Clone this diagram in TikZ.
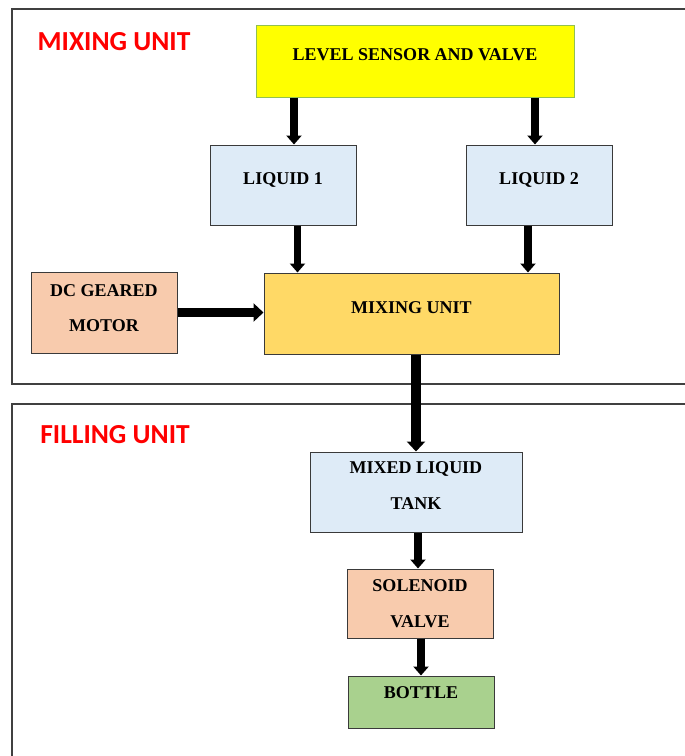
\documentclass[tikz,border=0pt]{standalone}
\usepackage{fontspec}
\setmainfont{Liberation Serif}
\newfontfamily\labfont{Carlito}
\usetikzlibrary{arrows.meta}
\definecolor{framecol}{HTML}{404040}
\definecolor{boxedge}{HTML}{3A3A3A}
\definecolor{lvlfill}{HTML}{FFFF00}
\definecolor{lvledge}{HTML}{92C050}
\definecolor{bluefill}{HTML}{DEEBF7}
\definecolor{mixfill}{HTML}{FFD966}
\definecolor{peachfill}{HTML}{F8CBAD}
\definecolor{greenfill}{HTML}{A9D18E}
\definecolor{titlered}{HTML}{FF0000}
\begin{document}
\begin{tikzpicture}[x=1pt,y=-1pt,
  box/.style={draw=boxedge, line width=1pt, inner sep=0pt},
  txt/.style={anchor=base, inner sep=0pt, font=\fontsize{18}{18}\selectfont\bfseries},
  title/.style={anchor=base, inner sep=0pt, text=titlered, font=\labfont\fontsize{27.5}{27.5}\selectfont\bfseries},
  arr/.style={line width=7.3pt, -{Triangle[width=15pt,length=9pt]}},
  arrbig/.style={line width=9.3pt, -{Triangle[width=18pt,length=10pt]}},
  framebox/.style={draw=framecol, line width=1.2pt}]

\useasboundingbox (0,0) rectangle (685,756);
\clip (0,0) rectangle (685,756);
\fill[white] (0,0) rectangle (685,756);

% frames
\draw[framebox] (12,9) rectangle (700,384);
\draw[framebox] (12,404) rectangle (700,780);

% titles
\node[title] (t-mix) at (114,50) {MIXING UNIT};
\node[title] (t-fill) at (115,443.6) {FILLING UNIT};

% boxes
\node[box, draw=lvledge, fill=lvlfill, minimum width=318pt, minimum height=72pt] (lvl) at (415,61) {};
\node[box, fill=bluefill, minimum width=146pt, minimum height=80pt] (l1) at (283,185) {};
\node[box, fill=bluefill, minimum width=146pt, minimum height=80pt] (l2) at (539,185) {};
\node[box, fill=mixfill, minimum width=295pt, minimum height=81pt] (mix) at (411.5,313.5) {};
\node[box, fill=peachfill, minimum width=146pt, minimum height=81pt] (motor) at (104,312.5) {};
\node[box, fill=bluefill, minimum width=212pt, minimum height=80pt] (tank) at (416,492) {};
\node[box, fill=peachfill, minimum width=146pt, minimum height=69pt] (sol) at (420,603.5) {};
\node[box, fill=greenfill, minimum width=146pt, minimum height=52pt] (bottle) at (421,702) {};

% texts
\node[txt] (lvl-t) at (415,60.7) {LEVEL SENSOR AND VALVE};
\node[txt] (l1-t) at (283,184) {LIQUID 1};
\node[txt] (l2-t) at (539,184) {LIQUID 2};
\node[txt] (mix-t) at (411.5,313) {MIXING UNIT};
\node[txt] (motor-t1) at (104,296) {DC GEARED};
\node[txt] (motor-t2) at (104,331) {MOTOR};
\node[txt] (tank-t1) at (416,473.7) {MIXED LIQUID};
\node[txt] (tank-t2) at (416,509) {TANK};
\node[txt] (sol-t1) at (420,591.7) {SOLENOID};
\node[txt] (sol-t2) at (420,627) {VALVE};
\node[txt] (bottle-t) at (421,698.3) {BOTTLE};

% connectors
\draw[arr] ([xshift=11pt]l1.north |- lvl.south) -- ([xshift=11pt]l1.north);
\draw[arr] ([xshift=-4pt]l2.north |- lvl.south) -- ([xshift=-4pt]l2.north);
\draw[arr] ([xshift=14.5pt]l1.south) -- ([xshift=14.5pt]l1.south |- mix.north);
\draw[arr] ([xshift=-11pt]l2.south) -- ([xshift=-11pt]l2.south |- mix.north);
\draw[arrbig] (motor.east) -- (motor.east -| mix.west);
\draw[arrbig] (tank.north |- mix.south) -- (tank.north);
\draw[arr] ([xshift=-2pt]sol.north |- tank.south) -- ([xshift=-2pt]sol.north);
\draw[arr] (bottle.north |- sol.south) -- (bottle.north);
\end{tikzpicture}
\end{document}
